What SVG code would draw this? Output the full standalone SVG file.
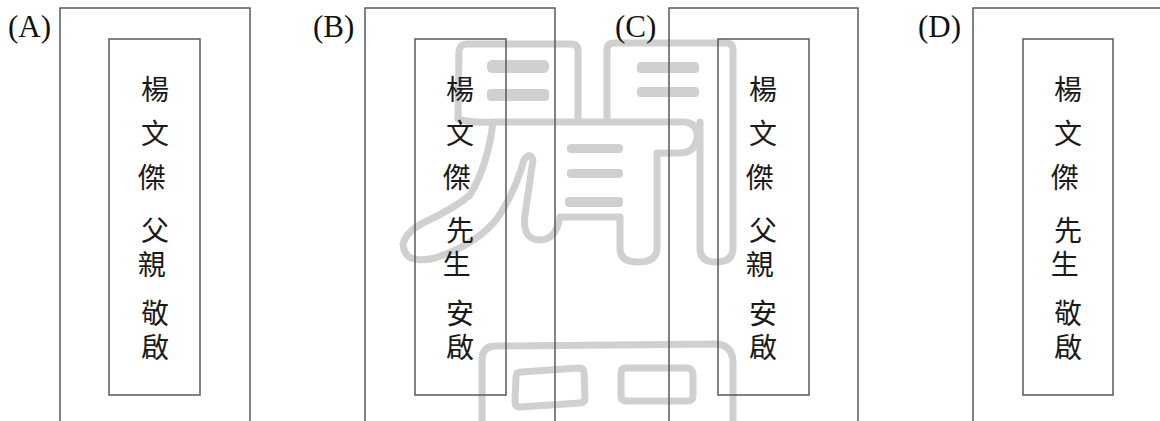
<svg xmlns="http://www.w3.org/2000/svg" width="1160" height="421" viewBox="0 0 1160 421">
<style>
.bg{fill:#ffffff}
.wm{fill:none;stroke:#d0d0d0;stroke-width:7;stroke-linecap:round;stroke-linejoin:round}
.wmf{fill:#d0d0d0;stroke:none}
.outer,.inner{fill:none;stroke:#5a5a5a;stroke-width:1.5}
.lbl{font-family:"Liberation Serif","Times New Roman",serif;font-size:31px;fill:#111111}
.cjk{font-family:"Noto Sans CJK TC","Noto Sans CJK SC",sans-serif;font-size:28px;fill:#1a1a1a;text-anchor:middle}
</style>
<rect class="bg" x="0" y="0" width="1160" height="421"/>
<g id="watermark">
  <path class="wm" d="M458,119 L459,51 Q460,44 467,44 L571,44 Q578,44 578,51 L578,119"/>
  <path class="wm" d="M458,119 Q470,123 493,122 L685,122 Q699,124 697,139 Q694,153 680,153 L657,153 L657,248 Q657,262 638,262 Q620,262 620,248 L620,217 L560,217 Q556,240 540,240 Q522,240 525,215 L533,160 Q530,151 524,160 Q514,195 496,220 Q475,245 435,258 Q405,265 403,245 Q405,232 425,222 Q455,208 470,195 Q488,165 493,122"/>
  <path class="wm" d="M607,119 L607,50 Q607,43 614,43 L726,43 Q733,43 733,50 L733,248 Q733,262 716,262 Q700,262 700,248 L700,122"/>
  <rect class="wmf" x="487" y="60" width="62" height="13" rx="5"/>
  <rect class="wmf" x="487" y="89" width="62" height="12" rx="4"/>
  <rect class="wmf" x="637" y="62" width="62" height="11" rx="4"/>
  <rect class="wmf" x="637" y="87" width="62" height="10" rx="4"/>
  <rect class="wmf" x="567" y="144" width="56" height="9" rx="4"/>
  <rect class="wmf" x="567" y="169" width="56" height="9" rx="4"/>
  <rect class="wmf" x="565" y="197" width="58" height="10" rx="4"/>
  <path class="wm" d="M482,421 L482,360 Q482,346 496,346 L716,344 Q733,345 733,363 L733,421"/>
  <path class="wm" d="M521,372 L579,368 Q584,368 584,373 L585,398 Q585,403 580,403 L520,407 Q515,407 515,402 L516,377 Q516,372 521,372 Z"/>
  <path class="wm" d="M626,368 L686,368 Q692,368 693,374 L693,396 Q693,401 687,401 L627,401 Q621,401 621,396 L621,373 Q621,368 626,368 Z"/>
</g>
<g id="connectors"></g>
<g id="panel-A">
  <rect class="outer" x="60" y="8" width="190" height="420"/>
  <rect class="inner" x="109" y="39" width="91" height="356"/>
  <text class="lbl" x="8" y="37">(A)</text>
  <text class="cjk">
    <tspan x="155" y="100">楊</tspan><tspan x="155" y="144">文</tspan><tspan x="155" y="188">傑</tspan>
    <tspan x="155" y="241">父</tspan><tspan x="155" y="275">親</tspan>
    <tspan x="155" y="324">敬</tspan><tspan x="155" y="358">啟</tspan>
  </text>
</g>
<g id="panel-B">
  <rect class="outer" x="365" y="8" width="190" height="420"/>
  <rect class="inner" x="415" y="39" width="91" height="356"/>
  <text class="lbl" x="313" y="37">(B)</text>
  <text class="cjk">
    <tspan x="460" y="100">楊</tspan><tspan x="460" y="144">文</tspan><tspan x="460" y="188">傑</tspan>
    <tspan x="460" y="241">先</tspan><tspan x="460" y="275">生</tspan>
    <tspan x="460" y="324">安</tspan><tspan x="460" y="358">啟</tspan>
  </text>
</g>
<g id="panel-C">
  <rect class="outer" x="669" y="8" width="189" height="420"/>
  <rect class="inner" x="718" y="39" width="91" height="356"/>
  <text class="lbl" x="615" y="37">(C)</text>
  <text class="cjk">
    <tspan x="763" y="100">楊</tspan><tspan x="763" y="144">文</tspan><tspan x="763" y="188">傑</tspan>
    <tspan x="763" y="241">父</tspan><tspan x="763" y="275">親</tspan>
    <tspan x="763" y="324">安</tspan><tspan x="763" y="358">啟</tspan>
  </text>
</g>
<g id="panel-D">
  <rect class="outer" x="973" y="8" width="190" height="420"/>
  <rect class="inner" x="1023" y="39" width="90" height="356"/>
  <text class="lbl" x="918" y="37">(D)</text>
  <text class="cjk">
    <tspan x="1068" y="100">楊</tspan><tspan x="1068" y="144">文</tspan><tspan x="1068" y="188">傑</tspan>
    <tspan x="1068" y="241">先</tspan><tspan x="1068" y="275">生</tspan>
    <tspan x="1068" y="324">敬</tspan><tspan x="1068" y="358">啟</tspan>
  </text>
</g>
</svg>
